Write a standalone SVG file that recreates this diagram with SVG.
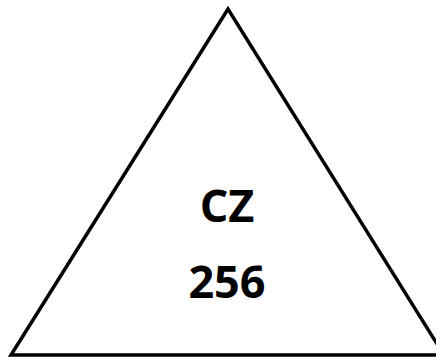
<svg xmlns="http://www.w3.org/2000/svg" width="436" height="358" viewBox="0 0 436 358">
<style>
.shape{fill:#fff;stroke:#000;stroke-width:3.5;stroke-linejoin:miter}
.lbl{font-family:"Open Sans","Liberation Sans",sans-serif;font-weight:bold;font-size:45px;fill:#000;text-anchor:middle}
</style>
<rect width="436" height="358" fill="#fff"/>
<g id="triangle">
<polygon class="shape" points="228,9 11,355 444,355"/>
<text class="lbl" x="227" y="222">CZ</text>
<text class="lbl" x="227" y="298">256</text>
</g>
</svg>
